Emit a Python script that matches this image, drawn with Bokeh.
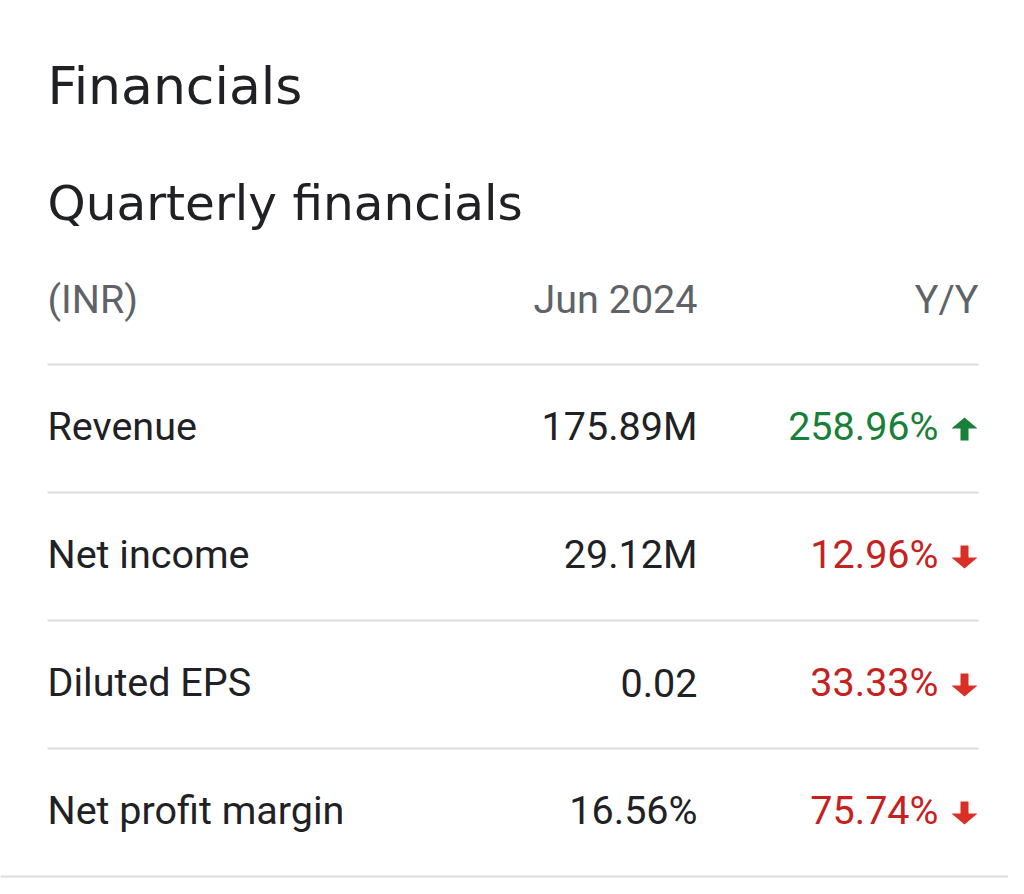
from bokeh.plotting import figure
from bokeh.models import Range1d, ColumnDataSource
from bokeh.core.properties import value
from bokeh.embed import file_html
from bokeh.resources import INLINE

title = "Financials"
subtitle = "Quarterly financials"
header_label = "(INR)"
header_period = "Jun 2024"
header_change = "Y/Y"

metrics = ["Revenue", "Net income", "Diluted EPS", "Net profit margin"]
values_jun2024 = ["175.89M", "29.12M", "0.02", "16.56%"]
yoy_changes = ["258.96%", "12.96%", "33.33%", "75.74%"]
yoy_direction = ["up", "down", "down", "down"]

GREEN = "#188038"
RED_TEXT = "#c5221f"
RED_ARROW = "#d93025"
DARK = "#202124"
GREY = "#5f6368"
RULE = "#dadce0"

W, H = 1008, 878
p = figure(width=W, height=H, output_backend="svg", toolbar_location=None,
           x_range=Range1d(0, W), y_range=Range1d(H, 0),
           min_border=0, outline_line_color=None, background_fill_color="white",
           border_fill_color="white")
p.axis.visible = False
p.grid.visible = False

TITLE_FONT = value("DejaVu Sans")
BODY_FONT = value("Roboto")
BODY_SIZE = "39.5px"
LEFT = 47
COL2 = 697
COL3 = 938
RIGHT = 978

p.text(x=[LEFT], y=[85], text=[title], text_font=TITLE_FONT, text_font_size="52px",
       text_color=DARK, text_baseline="alphabetic", text_align="left")
p.text(x=[LEFT], y=[202], text=[subtitle], text_font=TITLE_FONT, text_font_size="48.5px",
       text_color=DARK, text_baseline="alphabetic", text_align="left")

hb = 299
p.text(x=[LEFT], y=[hb], text=[header_label], text_font=BODY_FONT, text_font_size=BODY_SIZE,
       text_color=GREY, text_baseline="alphabetic", text_align="left")
p.text(x=[COL2], y=[hb], text=[header_period], text_font=BODY_FONT, text_font_size=BODY_SIZE,
       text_color=GREY, text_baseline="alphabetic", text_align="right")
p.text(x=[RIGHT], y=[hb], text=[header_change], text_font=BODY_FONT, text_font_size=BODY_SIZE,
       text_color=GREY, text_baseline="alphabetic", text_align="right")

ROW_TOP = 364
ROW_H = 128
n = len(metrics)
rule_y = [ROW_TOP + i * ROW_H for i in range(n + 1)]
x0 = [LEFT] * n + [0]
x1 = [RIGHT] * n + [W]
p.segment(x0=x0, y0=rule_y, x1=x1, y1=rule_y, line_color=RULE, line_width=2)

base = [ROW_TOP + 62 + i * ROW_H for i in range(n)]
centers = [ROW_TOP + ROW_H / 2 + i * ROW_H for i in range(n)]
tcolors = [GREEN if d == "up" else RED_TEXT for d in yoy_direction]
acolors = [GREEN if d == "up" else RED_ARROW for d in yoy_direction]

src = ColumnDataSource(dict(m=metrics, v=values_jun2024, c=yoy_changes,
                            y=base, tc=tcolors))
p.text(x=LEFT, y="y", text="m", source=src, text_font=BODY_FONT, text_font_size=BODY_SIZE,
       text_color=DARK, text_baseline="alphabetic", text_align="left")
p.text(x=COL2, y="y", text="v", source=src, text_font=BODY_FONT, text_font_size=BODY_SIZE,
       text_color=DARK, text_baseline="alphabetic", text_align="right")
p.text(x=COL3, y="y", text="c", source=src, text_font=BODY_FONT, text_font_size=BODY_SIZE,
       text_color="tc", text_baseline="alphabetic", text_align="right")

# arrows
ax = 964  # arrow centre x
hw = 13   # head half-width
hh = 11   # head height
sw = 4    # stem half-width
xs, ys = [], []
for cy, d in zip(centers, yoy_direction):
    top, bot = cy - 11, cy + 12
    xs.append([ax, ax + hw, ax + sw, ax + sw, ax - sw, ax - sw, ax - hw])
    if d == "up":
        ys.append([top, top + hh, top + hh, bot, bot, top + hh, top + hh])
    else:
        ys.append([bot, bot - hh, bot - hh, top, top, bot - hh, bot - hh])
p.patches(xs=xs, ys=ys, fill_color=acolors, line_color=None)

open("out.html", "w").write(file_html(p, INLINE))
